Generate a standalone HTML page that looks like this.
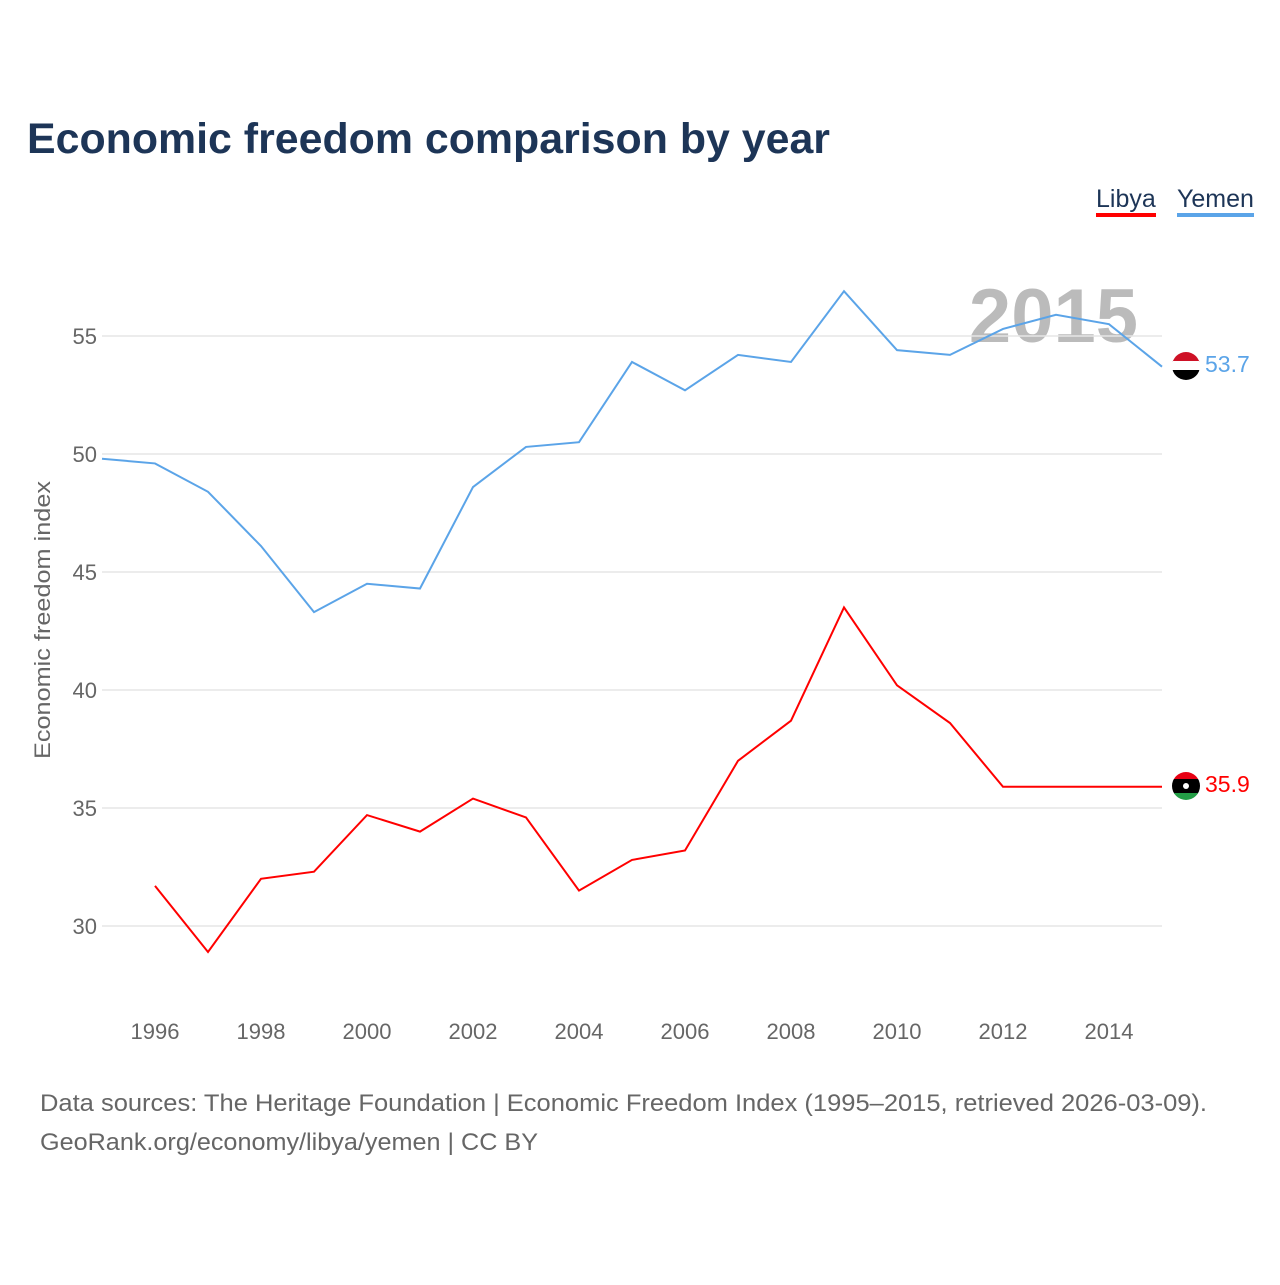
<!DOCTYPE html>
<html><head><meta charset="utf-8"><style>
body{margin:0;background:#fff;font-family:"Liberation Sans",sans-serif;}
</style></head><body>
<svg width="1280" height="1280" xmlns="http://www.w3.org/2000/svg" id="chart">
<text x="27" y="153" font-size="43" font-weight="bold" fill="#1d3557" textLength="803" lengthAdjust="spacingAndGlyphs">Economic freedom comparison by year</text>
<g>
<text x="1096" y="207" font-size="25" fill="#1d3557">Libya</text>
<rect x="1096" y="213" width="60" height="4" fill="#ff0000"/>
<text x="1177" y="207" font-size="25" fill="#1d3557">Yemen</text>
<rect x="1177" y="213" width="77" height="4" fill="#5ba4e8"/>
</g>
<text x="1138" y="342" font-size="76" font-weight="bold" fill="#bbbbbb" text-anchor="end">2015</text>
<g id="grid"></g>
<g id="yt"></g>
<g id="xt"></g>
<text transform="translate(50,620) rotate(-90)" font-size="22" fill="#666" text-anchor="middle" textLength="278" lengthAdjust="spacingAndGlyphs">Economic freedom index</text>
<g id="lines"></g>
<g>
<clipPath id="cy"><circle cx="1186" cy="366" r="14"/></clipPath>
<g clip-path="url(#cy)"><rect x="1172" y="352" width="28" height="10" fill="#ce1126"/><rect x="1172" y="361" width="28" height="10" fill="#fff"/><rect x="1172" y="370" width="28" height="10" fill="#000"/></g>
</g>
<g>
<clipPath id="cl"><circle cx="1186" cy="786" r="14"/></clipPath>
<g clip-path="url(#cl)"><rect x="1172" y="772" width="28" height="8" fill="#e70013"/><rect x="1172" y="779" width="28" height="15" fill="#000"/><rect x="1172" y="793" width="28" height="8" fill="#239e46"/></g>
<circle cx="1186" cy="786" r="3" fill="#fff"/>
</g>
<text x="1205" y="372" font-size="23" fill="#5ba4e8">53.7</text>
<text x="1205" y="792" font-size="23" fill="#ff0000">35.9</text>
<text x="40" y="1111" font-size="24" fill="#666" textLength="1167" lengthAdjust="spacingAndGlyphs">Data sources: The Heritage Foundation | Economic Freedom Index (1995–2015, retrieved 2026-03-09).</text>
<text x="40" y="1150" font-size="24" fill="#666" textLength="498" lengthAdjust="spacingAndGlyphs">GeoRank.org/economy/libya/yemen | CC BY</text>
</svg>
<script>
const years=[1995,1996,1997,1998,1999,2000,2001,2002,2003,2004,2005,2006,2007,2008,2009,2010,2011,2012,2013,2014,2015];
const yemen=[49.8,49.6,48.4,46.1,43.3,44.5,44.3,48.6,50.3,50.5,53.9,52.7,54.2,53.9,56.9,54.4,54.2,55.3,55.9,55.5,53.7];
const libya=[null,31.7,28.9,32.0,32.3,34.7,34.0,35.4,34.6,31.5,32.8,33.2,37.0,38.7,43.5,40.2,38.6,35.9,35.9,35.9,35.9];
const yTicks=[30,35,40,45,50,55];
const xTicks=[1996,1998,2000,2002,2004,2006,2008,2010,2012,2014];
const NS="http://www.w3.org/2000/svg";
const xs=y=>102+(y-1995)*53;
const ys=v=>926-(v-30)*23.6;
function mk(t,a,p){const e=document.createElementNS(NS,t);for(const k in a)e.setAttribute(k,a[k]);document.getElementById(p).appendChild(e);return e;}
yTicks.forEach(v=>{
 const l=mk('line',{x1:102,x2:1162,y1:ys(v),y2:ys(v),stroke:'#e6e6e6','stroke-width':1.5},'grid');
 
 
 const t=mk('text',{x:97,y:ys(v)+8,'font-size':22,fill:'#666','text-anchor':'end'},'yt');
 
 
 t.textContent=v;
});
xTicks.forEach(y=>{
 const t=mk('text',{x:xs(y),y:1039,'font-size':22,fill:'#666','text-anchor':'middle'},'xt');
 
 
 t.textContent=y;
});
function line(vals,col,name){
 const pts=[];vals.forEach((v,i)=>{if(v!==null)pts.push(xs(years[i])+','+ys(v));});
 const p=mk('polyline',{points:pts.join(' '),fill:'none',stroke:col,'stroke-width':2},'lines');
 
 
}
line(yemen,'#5ba4e8','yemen-line');
line(libya,'#ff0000','libya-line');
</script>
</body></html>
